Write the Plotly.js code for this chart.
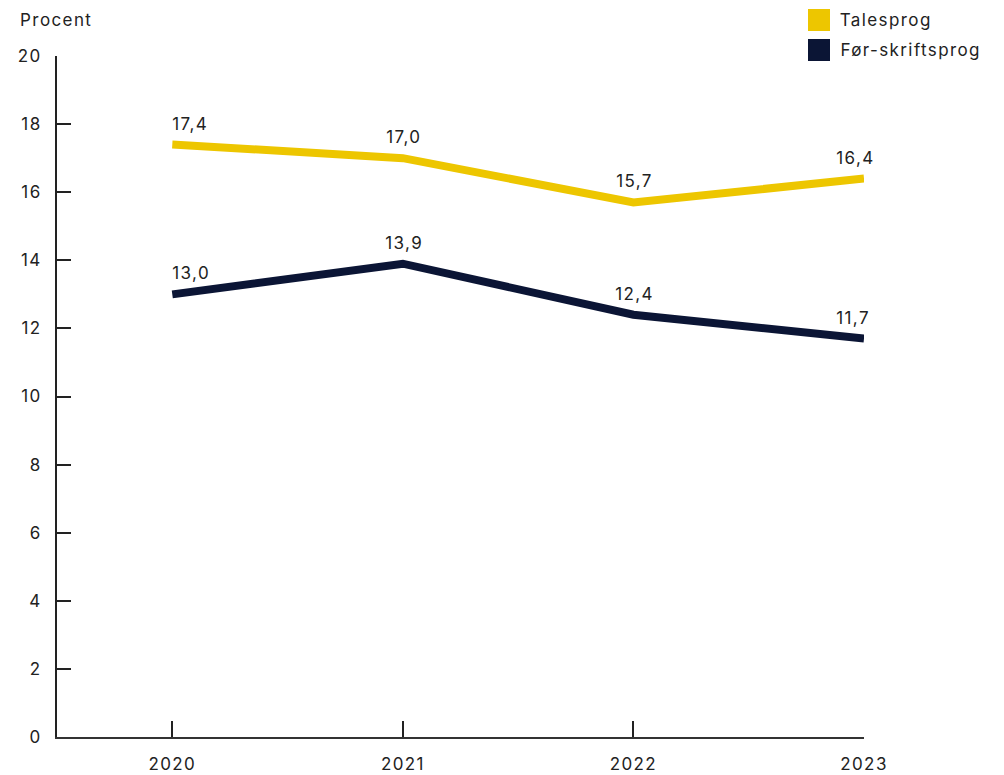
<!DOCTYPE html>
<html>
<head>
<meta charset="utf-8">
<script src="https://cdn.plot.ly/plotly-3.0.1.min.js"></script>
<style>
html,body{margin:0;padding:0;background:#fff;}
#chart{width:1004px;height:775px;}
#chart text{letter-spacing:1.4px;}
</style>
</head>
<body>
<div id="chart"></div>
<script>
const years = [2020, 2021, 2022, 2023];
const talesprog = [17.4, 17.0, 15.7, 16.4];
const forSkriftsprog = [13.0, 13.9, 12.4, 11.7];
const seriesNames = ['Talesprog', 'Før-skriftsprog'];
const seriesColors = ['#EDC600', '#0B1535'];
const yTicks = [0, 2, 4, 6, 8, 10, 12, 14, 16, 18, 20];

const FONT = 'Inter, "Open Sans", sans-serif';
const FS = 17;
const LS = 1.4;
const TXT = '#222';
const fmt = v => v.toFixed(1).replace('.', ',');

const seriesData = [talesprog, forSkriftsprog];
const traces = seriesData.map((vals, i) => ({
  type: 'scatter',
  mode: 'lines',
  x: years,
  y: vals,
  line: {color: seriesColors[i], width: 8},
  showlegend: false,
  hoverinfo: 'skip'
}));

const L = 57, R = 864, T = 56, B = 737;
const px2x = p => (p - L) / (R - L);
const px2y = p => (B - p) / (B - T);

const shapes = [];
const annotations = [{
  text: 'Procent', xref: 'paper', yref: 'paper',
  x: px2x(18), y: px2y(20), xanchor: 'left', yanchor: 'middle',
  xshift: 'Procent'.length * LS / 2,
  showarrow: false, font: {family: FONT, size: FS, color: TXT}
}];
seriesData.forEach(vals => {
  vals.forEach((v, j) => {
    const t = fmt(v);
    let xanchor = 'center', xshift = LS / 2;
    if (j === 0) { xanchor = 'left'; xshift = -2 + t.length * LS / 2; }
    else if (j === vals.length - 1) { xanchor = 'left'; xshift = -30 + t.length * LS / 2; }
    annotations.push({
      text: t, x: years[j], y: v, xref: 'x', yref: 'y',
      xanchor: xanchor, yanchor: 'middle', yshift: 21, xshift: xshift,
      showarrow: false, font: {family: FONT, size: FS, color: TXT}
    });
  });
});
seriesNames.forEach((name, i) => {
  const cy = 20 + i * 30;
  shapes.push({
    type: 'rect', xref: 'paper', yref: 'paper',
    x0: px2x(808), x1: px2x(830), y0: px2y(cy - 11), y1: px2y(cy + 11),
    fillcolor: seriesColors[i], line: {width: 0}
  });
  annotations.push({
    text: name, xref: 'paper', yref: 'paper',
    x: px2x(838), y: px2y(cy), xanchor: 'left', yanchor: 'middle',
    xshift: name.length * LS / 2,
    showarrow: false, font: {family: FONT, size: FS, color: TXT}
  });
});

const layout = {
  width: 1004, height: 775,
  margin: {l: L, r: 1004 - R, t: T, b: 775 - B},
  paper_bgcolor: '#fff', plot_bgcolor: '#fff',
  font: {family: FONT, size: FS, color: TXT},
  xaxis: {
    range: [2019.5, 2023.0],
    tickvals: years, ticktext: years.map(String),
    ticks: 'inside', ticklen: 16, tickwidth: 2, tickcolor: '#222',
    showline: true, linecolor: '#333', linewidth: 2,
    showgrid: false, zeroline: false,
    tickfont: {family: FONT, size: FS, color: TXT},
    ticklabelstandoff: 11
  },
  yaxis: {
    range: [0, 20],
    tickvals: yTicks, ticktext: yTicks.map(String),
    ticks: 'inside', ticklen: 14, tickwidth: 2, tickcolor: '#222',
    showline: true, linecolor: '#222', linewidth: 2,
    showgrid: false, zeroline: false,
    tickfont: {family: FONT, size: FS, color: TXT},
    ticklabelstandoff: 10
  },
  shapes: shapes,
  annotations: annotations,
  showlegend: false
};

Plotly.newPlot('chart', traces, layout, {displayModeBar: false, staticPlot: true});
</script>
</body>
</html>
